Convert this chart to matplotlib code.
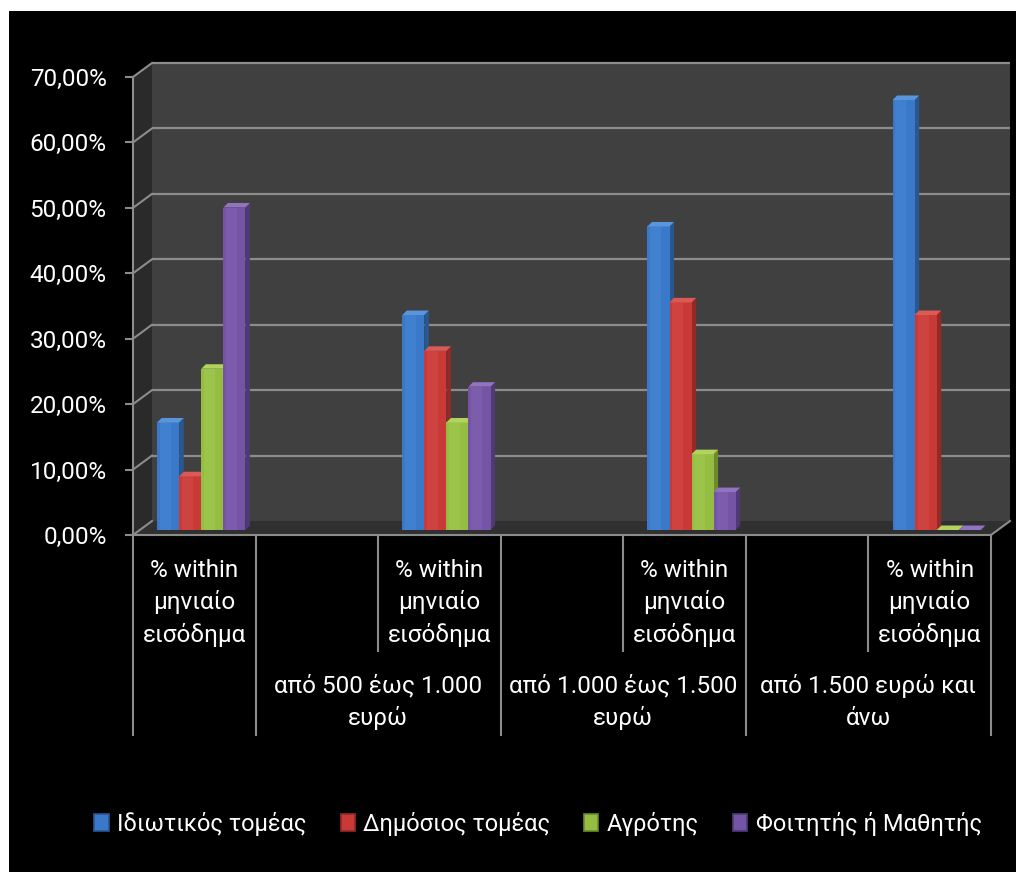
import numpy as np
import matplotlib
matplotlib.use("Agg")
import matplotlib.pyplot as plt
from matplotlib.patches import Rectangle, Polygon, Patch
from matplotlib.lines import Line2D
from matplotlib.transforms import ScaledTranslation

plt.rcParams['font.family'] = ['Roboto', 'DejaVu Sans']

# ---- data -------------------------------------------------------------
inner_labels = ['% within\nμηνιαίο\nεισόδημα', '', '% within\nμηνιαίο\nεισόδημα', '',
                '% within\nμηνιαίο\nεισόδημα', '', '% within\nμηνιαίο\nεισόδημα']
outer_labels = ['', 'από 500 έως 1.000\nευρώ', 'από 1.000 έως 1.500\nευρώ',
                'από 1.500 ευρώ και\nάνω']
outer_spans = [(0, 0), (1, 2), (3, 4), (5, 6)]          # slot ranges of each income band
bar_slots = [0, 2, 4, 6]                                 # slots that carry the bars

series_names = ['Ιδιωτικός τομέας', 'Δημόσιος τομέας', 'Αγρότης', 'Φοιτητής ή Μαθητής']
private_sector = [16.67, 33.33, 47.06, 66.67]
public_sector = [8.33, 27.78, 35.29, 33.33]
farmer = [25.00, 16.67, 11.76, 0.00]
student = [50.00, 22.22, 5.88, 0.00]
series_values = [private_sector, public_sector, farmer, student]

y_ticks = [0, 10, 20, 30, 40, 50, 60, 70]

# ---- styling ----------------------------------------------------------
front_cols = ['#3a79c9', '#c93a37', '#95bd42', '#7554a5']
light_cols = ['#4a8ad8', '#d6504c', '#a6cc55', '#8566b5']
side_cols = ['#285791', '#932a28', '#6c8b2e', '#4f3a76']
top_cols = ['#5a95dc', '#dc5a55', '#b0d45e', '#9173c0']
grid_col = '#8c8c8c'
W, H = 1016, 872
DPI = 100

fig = plt.figure(figsize=(W / DPI, H / DPI), dpi=DPI, facecolor='white')
bg = Rectangle((9 / W, 0), 1 - 9 / W, 1 - 11 / H, transform=fig.transFigure,
               facecolor='black', edgecolor='none', zorder=-10)
fig.add_artist(bg)


def frac(x0, y0, x1, y1):
    """pixel box (top-left origin) -> [left, bottom, width, height] figure fraction"""
    return [x0 / W, 1 - y1 / H, (x1 - x0) / W, (y1 - y0) / H]


# front plane of the chart (value axis + category axis)
ax = fig.add_axes(frac(133, 77, 991, 535))
ax.set_xlim(-0.5, 6.5)
ax.set_ylim(0, 70)
ax.set_facecolor('none')
for s in ['top', 'right']:
    ax.spines[s].set_visible(False)
for s in ['left', 'bottom']:
    ax.spines[s].set_color(grid_col)
    ax.spines[s].set_linewidth(1.5)
ax.set_yticks(y_ticks)
ax.set_yticklabels([f'{t:.2f}%'.replace('.', ',') for t in y_ticks])
ax.tick_params(axis='y', colors=grid_col, labelcolor='white', length=6, width=1.5,
               pad=13, labelsize=17.5)
ax.set_xticks([])

# plane on which the bars stand (slightly behind the front plane)
bx = fig.add_axes(frac(140, 530 - 70 * 6.45, 998, 530))
bx.set_xlim(-0.5, 6.5)
bx.set_ylim(0, 70)
bx.axis('off')
bx.set_zorder(ax.get_zorder() + 1)

DEPTH = (19, 14)   # floor / wall depth in pixels


def fpt(axes, x, y, dx=0.0, dy=0.0):
    p = axes.transData.transform((x, y)) + np.array([dx, dy]) * fig.dpi / DPI
    return fig.transFigure.inverted().transform(p)


wall_tf = ax.transData + ScaledTranslation(DEPTH[0] / DPI, DEPTH[1] / DPI, fig.dpi_scale_trans)

# back wall
ax.add_patch(Rectangle((-0.5, 0), 7, 70, transform=wall_tf, facecolor='#404040',
                       edgecolor='none', zorder=0, clip_on=False))
# left side wall
side = [fpt(ax, -0.5, 0), fpt(ax, -0.5, 70), fpt(ax, -0.5, 70, *DEPTH), fpt(ax, -0.5, 0, *DEPTH)]
ax.add_patch(Polygon(side, closed=True, transform=fig.transFigure, facecolor='#2a2a2a',
                     edgecolor='none', zorder=0.5, clip_on=False))
# floor
floor = [fpt(ax, -0.5, 0), fpt(ax, 6.5, 0), fpt(ax, 6.5, 0, *DEPTH), fpt(ax, -0.5, 0, *DEPTH)]
ax.add_patch(Polygon(floor, closed=True, transform=fig.transFigure, facecolor='#303030',
                     edgecolor='none', zorder=0.6, clip_on=False))
a, b = fpt(ax, 6.5, 0), fpt(ax, 6.5, 0, *DEPTH)
ax.add_line(Line2D([a[0], b[0]], [a[1], b[1]], transform=fig.transFigure, color=grid_col,
                   lw=1.5, zorder=1, clip_on=False))

# gridlines on the back wall and their links to the value axis
ax.hlines(y_ticks[1:], -0.5, 6.5, transform=wall_tf, colors=grid_col, lw=1.6, zorder=1,
          clip_on=False)
for t in y_ticks:
    a, b = fpt(ax, -0.5, t), fpt(ax, -0.5, t, *DEPTH)
    ax.add_line(Line2D([a[0], b[0]], [a[1], b[1]], transform=fig.transFigure,
                       color=grid_col, lw=1.5, zorder=1, clip_on=False))

# ---- 3D bars ---------------------------------------------------------
bw = 0.18
BD = (4.5, 4.5)  # bar depth in pixels
for si, vals in enumerate(series_values):
    xs = [s + (si - 1.5) * bw for s in bar_slots]
    bx.bar(xs, vals, width=bw, color=front_cols[si], edgecolor='none', zorder=2 + si,
           clip_on=False)
    # soft highlight on the left part of each front face
    bx.bar([x - bw * 0.12 for x in xs], vals, width=bw * 0.5, color=light_cols[si],
           edgecolor='none', alpha=0.45, zorder=2.05 + si, clip_on=False)
    for x, v in zip(xs, vals):
        x0, x1 = x - bw / 2, x + bw / 2
        side_face = [fpt(bx, x1, 0), fpt(bx, x1, v), fpt(bx, x1, v, *BD), fpt(bx, x1, 0, *BD)]
        top_face = [fpt(bx, x0, v), fpt(bx, x1, v), fpt(bx, x1, v, *BD), fpt(bx, x0, v, *BD)]
        bx.add_patch(Polygon(side_face, closed=True, transform=fig.transFigure,
                             facecolor=side_cols[si], edgecolor='none', zorder=1.9 + si,
                             clip_on=False))
        bx.add_patch(Polygon(top_face, closed=True, transform=fig.transFigure,
                             facecolor=top_cols[si], edgecolor='none', zorder=2.1 + si,
                             clip_on=False))

# ---- category axis (two levels) --------------------------------------
xt = ax.get_xaxis_transform()
inner_bottom = -(652 - 535) / 458
outer_bottom = -(736 - 535) / 458
long_lines = [-0.5] + [hi + 0.5 for lo, hi in outer_spans]
short_lines = [lo + 0.5 for lo, hi in outer_spans[1:]]
ax.vlines(long_lines, outer_bottom, 0, transform=xt, colors=grid_col, lw=1.5, clip_on=False)
ax.vlines(short_lines, inner_bottom, 0, transform=xt, colors=grid_col, lw=1.5, clip_on=False)

for i, lab in enumerate(inner_labels):
    if lab:
        ax.text(i, -(603 - 535) / 458, lab, transform=xt, ha='center', va='center',
                color='white', fontsize=17.5, linespacing=1.45)
for (lo, hi), lab in zip(outer_spans, outer_labels):
    if lab:
        ax.text((lo + hi) / 2, -(702 - 535) / 458, lab, transform=xt, ha='center',
                va='center', color='white', fontsize=17.5, linespacing=1.45)

# ---- legend -----------------------------------------------------------
handles = [Patch(facecolor=front_cols[i], edgecolor=side_cols[i], linewidth=1.2,
                 label=series_names[i]) for i in range(4)]
leg = fig.legend(handles=handles, loc='center', ncol=4, frameon=False,
                 bbox_to_anchor=(538 / W, 1 - 824 / H), fontsize=17,
                 handlelength=0.6, handleheight=0.7, handletextpad=0.35,
                 columnspacing=1.45, labelcolor='white')

fig.savefig('out.png', dpi=DPI, facecolor=fig.get_facecolor())
